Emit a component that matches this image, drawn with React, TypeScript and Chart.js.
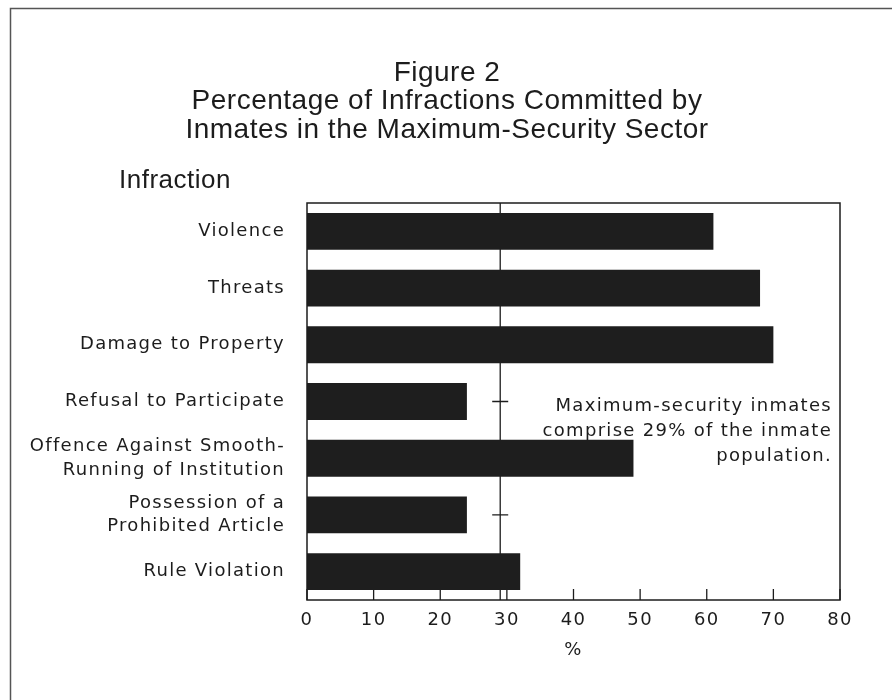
import React, { useEffect, useRef } from 'react';
import { Chart, registerables } from 'chart.js';

Chart.register(...registerables);

// ---- data ----
const categories: (string | string[])[] = [
  'Violence',
  'Threats',
  'Damage to Property',
  'Refusal to Participate',
  ['Offence Against Smooth-', 'Running of Institution'],
  ['Possession of a', 'Prohibited Article'],
  'Rule Violation',
];
const percentages = [61, 68, 70, 24, 49, 24, 32];
const xMin = 0;
const xMax = 80;
const xStep = 10;
const populationShare = 29;
const crossMarkRows = [3, 5];
const titleLines = [
  'Figure 2',
  'Percentage of Infractions Committed by',
  'Inmates in the Maximum-Security Sector',
];
const yAxisHeading = 'Infraction';
const xAxisTitle = '%';
const noteLines = [
  'Maximum-security inmates',
  'comprise 29% of the inmate',
  'population.',
];

// ---- styles ----
const INK = '#1c1c1c';
const BAR = '#1e1e1e';
const LABEL_FONT = '"DejaVu Sans", sans-serif';
const TITLE_FONT = '"Liberation Sans", Arial, sans-serif';
const SPACING = '1.3px';

const decor = {
  id: 'decor',
  beforeLayout(chart: any) {
    chart.ctx.letterSpacing = SPACING;
  },
  beforeDraw(chart: any) {
    const ctx = chart.ctx;
    ctx.save();
    ctx.fillStyle = '#ffffff';
    ctx.fillRect(0, 0, chart.width, chart.height);
    // outer frame
    ctx.strokeStyle = '#555';
    ctx.lineWidth = 1.5;
    ctx.beginPath();
    ctx.moveTo(10.5, chart.height);
    ctx.lineTo(10.5, 8.5);
    ctx.lineTo(chart.width, 8.5);
    ctx.stroke();
    // title
    ctx.letterSpacing = '0.5px';
    ctx.fillStyle = INK;
    ctx.textAlign = 'center';
    ctx.textBaseline = 'middle';
    ctx.font = `28px ${TITLE_FONT}`;
    titleLines.forEach((t, i) => ctx.fillText(t, 447, 73 + i * 28.5));
    ctx.textAlign = 'left';
    ctx.font = `26px ${TITLE_FONT}`;
    ctx.fillText(yAxisHeading, 119, 181);
    ctx.restore();
    ctx.letterSpacing = SPACING;
  },
  beforeDatasetsDraw(chart: any) {
    const ctx = chart.ctx;
    const { top, bottom } = chart.chartArea;
    const xs = chart.scales.x;
    const x = xs.getPixelForValue(populationShare);
    ctx.save();
    ctx.strokeStyle = INK;
    ctx.lineWidth = 1.3;
    ctx.beginPath();
    ctx.moveTo(x, top);
    ctx.lineTo(x, bottom);
    crossMarkRows.forEach((r) => {
      const y = chart.scales.y.getPixelForValue(r);
      ctx.moveTo(x - 8, y);
      ctx.lineTo(x + 8, y);
    });
    // inward tick marks on the value axis
    xs.ticks.forEach((t: any) => {
      const tx = xs.getPixelForValue(t.value);
      ctx.moveTo(tx, bottom);
      ctx.lineTo(tx, bottom - 11);
    });
    ctx.stroke();
    ctx.restore();
  },
  afterDraw(chart: any) {
    const ctx = chart.ctx;
    const { left, right, top, bottom } = chart.chartArea;
    ctx.save();
    ctx.strokeStyle = INK;
    ctx.lineWidth = 1.5;
    ctx.strokeRect(left, top, right - left, bottom - top);
    // note
    ctx.letterSpacing = SPACING;
    ctx.fillStyle = INK;
    ctx.font = `18px ${LABEL_FONT}`;
    ctx.textAlign = 'right';
    ctx.textBaseline = 'middle';
    const yMid = (chart.scales.y.getPixelForValue(3) + chart.scales.y.getPixelForValue(4)) / 2;
    noteLines.forEach((t, i) => ctx.fillText(t, right - 8, yMid + 1 + (i - 1) * 25));
    ctx.restore();
  },
};

export default function App() {
  const ref = useRef<HTMLCanvasElement>(null);
  useEffect(() => {
    if (!ref.current) return;
    const chart = new Chart(ref.current, {
      type: 'bar',
      data: {
        labels: categories as any,
        datasets: [
          {
            data: percentages,
            backgroundColor: BAR,
            borderWidth: 0,
            barPercentage: 1,
            categoryPercentage: 0.65,
          },
        ],
      },
      options: {
        indexAxis: 'y',
        animation: false,
        responsive: true,
        maintainAspectRatio: false,
        layout: { padding: { left: 0, right: 52, top: 203, bottom: 0 } },
        plugins: {
          legend: { display: false },
          title: { display: false },
          tooltip: { enabled: false },
        },
        scales: {
          x: {
            type: 'linear',
            min: xMin,
            max: xMax,
            ticks: {
              stepSize: xStep,
              color: INK,
              padding: 10,
              font: { family: LABEL_FONT, size: 18 },
            },
            grid: { display: false, drawTicks: false },
            border: { display: false },
            title: {
              display: true,
              text: xAxisTitle,
              color: INK,
              font: { family: LABEL_FONT, size: 18 },
              padding: { top: 0, bottom: 39 },
            },
            afterFit(scale: any) {
              scale.height = 100;
            },
          },
          y: {
            type: 'category',
            ticks: {
              color: INK,
              padding: 22,
              font: { family: LABEL_FONT, size: 18, lineHeight: 1.3 },
            },
            grid: { display: false, drawTicks: false },
            border: { display: false },
            afterFit(scale: any) {
              scale.width = 307;
            },
          },
        },
      },
      plugins: [decor],
    });
    return () => chart.destroy();
  }, []);

  return (
    <div style={{ position: 'fixed', left: 0, top: 0, width: 892, height: 700, background: '#fff' }}>
      <canvas ref={ref} />
    </div>
  );
}
